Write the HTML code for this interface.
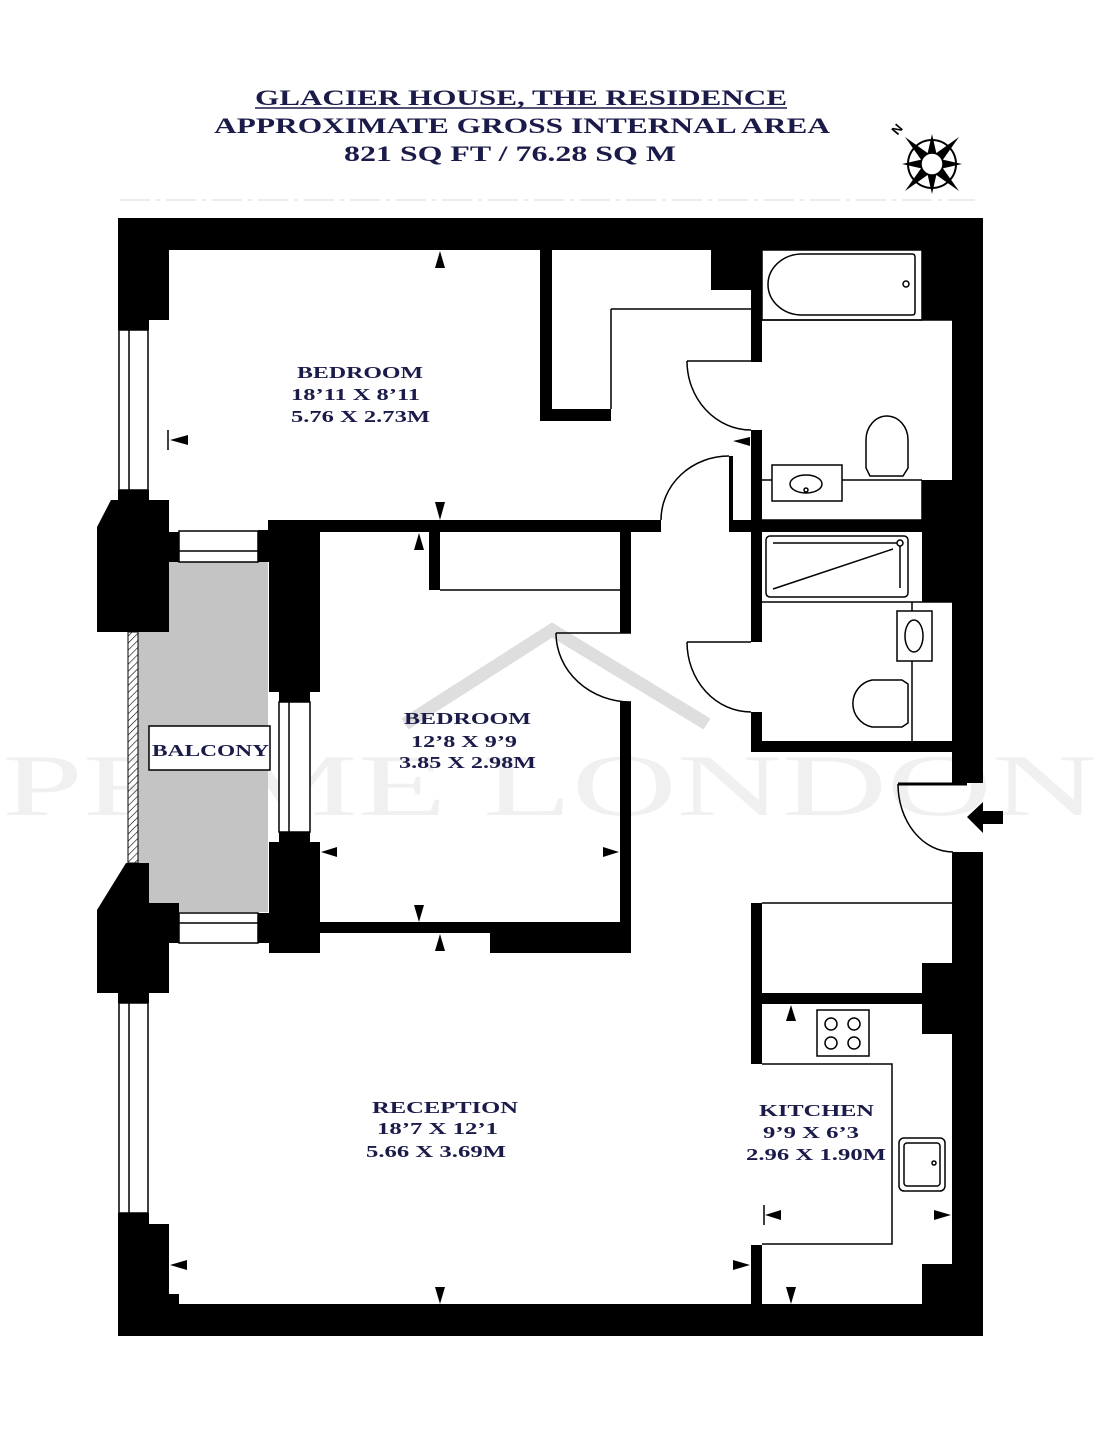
<!DOCTYPE html>
<html><head><meta charset="utf-8"><style>
html,body{margin:0;padding:0;background:#fff;}
svg{display:block;}
.t{font-family:"Liberation Serif",serif;fill:#1b1b4a;font-weight:bold;}
.r{font-family:"Liberation Serif",serif;fill:#1b1b4a;font-size:17px;font-weight:bold;}
</style></head><body>
<svg width="1103" height="1447" viewBox="0 0 1103 1447" xmlns="http://www.w3.org/2000/svg">
<defs>
<pattern id="h" width="5" height="5" patternUnits="userSpaceOnUse" patternTransform="rotate(45)">
<line x1="0" y1="0" x2="0" y2="5" stroke="#000" stroke-width="1.2"/></pattern>
</defs>
<rect width="1103" height="1447" fill="#fff"/>
<!-- header -->
<text class="t" x="255" y="105" font-size="22" textLength="532" lengthAdjust="spacingAndGlyphs">GLACIER HOUSE, THE RESIDENCE</text>
<line x1="255" y1="108" x2="787" y2="108" stroke="#1b1b4a" stroke-width="1.5"/>
<text class="t" x="214" y="133" font-size="22" textLength="616" lengthAdjust="spacingAndGlyphs">APPROXIMATE GROSS INTERNAL AREA</text>
<text class="t" x="344" y="161" font-size="22" textLength="332" lengthAdjust="spacingAndGlyphs">821 SQ FT / 76.28 SQ M</text>
<line x1="120" y1="200" x2="975" y2="200" stroke="#ececec" stroke-width="2" stroke-dasharray="30 6 4 6"/>
<!-- compass -->
<g transform="translate(932,164)">
<circle r="24" fill="none" stroke="#000" stroke-width="2"/>
<g fill="#000">
<polygon points="0,-30 5,-8 -5,-8"/><polygon points="0,30 5,8 -5,8"/>
<polygon points="-30,0 -8,5 -8,-5"/><polygon points="30,0 8,5 8,-5"/>
<polygon points="-27,-27 -3,-10 -10,-3"/><polygon points="27,-27 3,-10 10,-3"/>
<polygon points="-27,27 -3,10 -10,3"/><polygon points="27,27 3,10 10,3"/>
</g>
<circle r="11" fill="#fff" stroke="#000" stroke-width="1.5"/>
</g>
<text x="893" y="136" font-family="Liberation Sans,sans-serif" font-size="13" font-weight="bold" transform="rotate(-50 895 131)">N</text>
<!-- watermark -->
<text x="2" y="815" font-family="Liberation Serif,serif" font-size="88" fill="#f0f0f0" textLength="1095" lengthAdjust="spacingAndGlyphs">PRIME LONDON</text>
<polyline points="405,724 552,630 707,724" fill="none" stroke="#dedede" stroke-width="13"/>
<!-- balcony -->
<rect x="138" y="562" width="130" height="350" fill="#c4c4c4"/>
<rect x="128" y="632" width="10" height="231" fill="url(#h)" stroke="#000" stroke-width="1"/>
<!-- outer walls -->
<g fill="#000">
<rect x="118" y="218" width="865" height="32"/>
<rect x="952" y="218" width="31" height="565"/>
<rect x="952" y="852" width="31" height="484"/>
<rect x="118" y="1304" width="865" height="32"/>
<rect x="118" y="218" width="51" height="102"/>
<rect x="118" y="320" width="31" height="10"/>
<rect x="118" y="490" width="31" height="10"/>
<polygon points="111,500 169,500 169,532 179,532 179,562 169,562 169,632 97,632 97,527"/>
<rect x="269" y="520" width="51" height="172"/>
<rect x="279" y="692" width="31" height="10"/>
<rect x="258" y="530" width="11" height="32"/>
<rect x="279" y="832" width="31" height="10"/>
<rect x="269" y="842" width="51" height="111"/>
<rect x="258" y="913" width="11" height="30"/>
<polygon points="126,863 149,863 149,903 179,903 179,943 169,943 169,993 97,993 97,910"/>
<rect x="118" y="993" width="31" height="10"/>
<rect x="118" y="1213" width="31" height="11"/>
<rect x="118" y="1224" width="51" height="80"/>
<rect x="169" y="1294" width="10" height="10"/>
<!-- interior -->
<rect x="268" y="520" width="393" height="12"/>
<rect x="540" y="250" width="12" height="171"/>
<rect x="540" y="409" width="71" height="12"/>
<rect x="711" y="250" width="51" height="40"/>
<rect x="751" y="290" width="11" height="72"/>
<rect x="751" y="430" width="11" height="212"/>
<rect x="729" y="456" width="4" height="70"/>
<rect x="729" y="520" width="223" height="12"/>
<rect x="922" y="250" width="30" height="70"/>
<rect x="922" y="480" width="30" height="122"/>
<rect x="751" y="712" width="11" height="40"/>
<rect x="751" y="741" width="201" height="11"/>
<rect x="429" y="532" width="11" height="58"/>
<rect x="620" y="532" width="11" height="101"/>
<rect x="620" y="702" width="11" height="251"/>
<rect x="320" y="922" width="311" height="11"/>
<rect x="490" y="933" width="141" height="20"/>
<rect x="751" y="903" width="11" height="161"/>
<rect x="922" y="963" width="30" height="71"/>
<rect x="762" y="993" width="160" height="11"/>
<rect x="751" y="1245" width="11" height="59"/>
<rect x="922" y="1264" width="30" height="40"/>
<!-- entry arrow -->
<polygon points="967,817 983,802 983,811 1003,811 1003,824 983,824 983,833"/>
</g>
<!-- windows -->
<g fill="#fff" stroke="#000" stroke-width="1.5">
<rect x="119" y="330" width="29" height="160"/><line x1="129" y1="330" x2="129" y2="490"/>
<rect x="179" y="531" width="79" height="31"/><line x1="179" y1="551" x2="258" y2="551"/>
<rect x="279" y="702" width="31" height="130"/><line x1="289" y1="702" x2="289" y2="832"/>
<rect x="179" y="913" width="79" height="30"/><line x1="179" y1="923" x2="258" y2="923"/>
<rect x="119" y="1003" width="29" height="210"/><line x1="129" y1="1003" x2="129" y2="1213"/>
</g>
<!-- thin lines & doors -->
<g fill="none" stroke="#000" stroke-width="1.5">
<line x1="611" y1="309" x2="611" y2="409"/><line x1="611" y1="309" x2="751" y2="309"/>
<line x1="687" y1="361" x2="751" y2="361"/>
<path d="M687,361 A64,69 0 0 0 751,430"/>
<path d="M729,456 A68,64 0 0 0 661,520"/>
<line x1="440" y1="590" x2="620" y2="590"/>
<line x1="556" y1="633" x2="631" y2="633"/>
<path d="M556,633 A75,69 0 0 0 631,702"/>
<line x1="687" y1="642" x2="751" y2="642"/>
<path d="M687,642 A64,70 0 0 0 751,712"/>
<line x1="898" y1="784" x2="967" y2="784" stroke-width="3"/>
<path d="M898,784 A55,68 0 0 0 953,852"/>
<!-- bath1 -->
<rect x="762" y="250" width="160" height="70"/>
<line x1="762" y1="320" x2="952" y2="320"/>
<path d="M802,254 L912,254 Q915,254 915,257 L915,312 Q915,315 912,315 L802,315 A34,30.5 0 0 1 802,254 Z"/>
<circle cx="906" cy="284" r="3"/>
<line x1="762" y1="480" x2="922" y2="480"/>
<line x1="762" y1="520" x2="922" y2="520"/>
<line x1="922" y1="480" x2="922" y2="520"/>
<path d="M866,468 L866,440 A21,24 0 0 1 908,440 L908,468 L903,476 L870,476 Z" fill="#fff"/>
<rect x="772" y="465" width="70" height="36" fill="#fff"/>
<ellipse cx="806" cy="484" rx="16" ry="9"/><circle cx="806" cy="490" r="2"/>
<!-- bath2 -->
<rect x="766" y="536" width="142" height="61" rx="4"/>
<line x1="773" y1="543" x2="897" y2="543"/><circle cx="900" cy="543" r="3"/>
<line x1="900" y1="546" x2="900" y2="588"/><line x1="773" y1="589" x2="893" y2="549"/>
<line x1="762" y1="602" x2="952" y2="602"/>
<line x1="912" y1="602" x2="912" y2="741"/>
<rect x="897" y="611" width="35" height="50" fill="#fff"/>
<ellipse cx="914" cy="636" rx="9" ry="16"/>
<path d="M908,684 L902,680 L872,680 A24,24 0 0 0 872,727 L902,727 L908,723 Z" fill="#fff"/>
<!-- kitchen -->
<line x1="762" y1="903" x2="952" y2="903"/>
<rect x="817" y="1010" width="52" height="46"/>
<circle cx="831" cy="1024" r="6"/><circle cx="854" cy="1024" r="6"/>
<circle cx="831" cy="1043" r="6"/><circle cx="854" cy="1043" r="6"/>
<polyline points="762,1064 892,1064 892,1244 762,1244"/>
<rect x="899" y="1138" width="46" height="53" rx="5"/>
<rect x="904" y="1143" width="36" height="43" rx="3"/>
<circle cx="934" cy="1163" r="2"/>
<line x1="168" y1="430" x2="168" y2="450"/>
<line x1="764" y1="1205" x2="764" y2="1225"/>
</g>
<!-- dimension arrows -->
<g fill="#000">
<polygon points="440,251 435,268 445,268"/>
<polygon points="435,502 445,502 440,520"/>
<polygon points="170,440 188,435 188,445"/>
<polygon points="419,533 414,550 424,550"/>
<polygon points="321,852 337,847 337,857"/>
<polygon points="619,852 603,847 603,857"/>
<polygon points="414,905 424,905 419,922"/>
<polygon points="440,934 435,951 445,951"/>
<polygon points="170,1265 187,1260 187,1270"/>
<polygon points="750,1265 733,1260 733,1270"/>
<polygon points="435,1287 445,1287 440,1304"/>
<polygon points="791,1005 786,1021 796,1021"/>
<polygon points="765,1215 781,1210 781,1220"/>
<polygon points="951,1215 934,1210 934,1220"/>
<polygon points="786,1287 796,1287 791,1304"/>
<polygon points="733,441 750,437 750,446"/>
</g>
<!-- labels -->
<text class="r" x="297" y="378" textLength="126" lengthAdjust="spacingAndGlyphs">BEDROOM</text>
<text class="r" x="291" y="400" textLength="129" lengthAdjust="spacingAndGlyphs">18’11 X 8’11</text>
<text class="r" x="291" y="422" textLength="139" lengthAdjust="spacingAndGlyphs">5.76 X 2.73M</text>
<text class="r" x="404" y="724" textLength="127" lengthAdjust="spacingAndGlyphs">BEDROOM</text>
<text class="r" x="411" y="747" textLength="106" lengthAdjust="spacingAndGlyphs">12’8 X 9’9</text>
<text class="r" x="399" y="768" textLength="137" lengthAdjust="spacingAndGlyphs">3.85 X 2.98M</text>
<rect x="149" y="726" width="121" height="44" fill="#fff" stroke="#000" stroke-width="1.5"/>
<text class="r" x="152" y="756" textLength="117" lengthAdjust="spacingAndGlyphs">BALCONY</text>
<text class="r" x="372" y="1113" textLength="146" lengthAdjust="spacingAndGlyphs">RECEPTION</text>
<text class="r" x="377" y="1134" textLength="121" lengthAdjust="spacingAndGlyphs">18’7 X 12’1</text>
<text class="r" x="366" y="1157" textLength="140" lengthAdjust="spacingAndGlyphs">5.66 X 3.69M</text>
<text class="r" x="759" y="1116" textLength="115" lengthAdjust="spacingAndGlyphs">KITCHEN</text>
<text class="r" x="763" y="1138" textLength="96" lengthAdjust="spacingAndGlyphs">9’9 X 6’3</text>
<text class="r" x="746" y="1160" textLength="140" lengthAdjust="spacingAndGlyphs">2.96 X 1.90M</text>
</svg>
</body></html>
